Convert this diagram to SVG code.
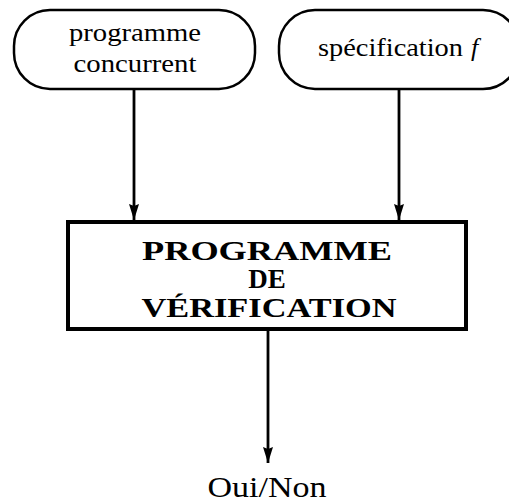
<svg xmlns="http://www.w3.org/2000/svg" width="509" height="504" viewBox="0 0 509 504">
<style>
.t{font-family:"Liberation Serif","Times New Roman",serif;fill:#000}
.s{font-size:26px}
.b{font-size:27px;font-weight:bold}
.shape{fill:none;stroke:#000;stroke-width:2.5}
.box{fill:none;stroke:#000;stroke-width:4}
.ln{stroke:#000;stroke-width:2.8;fill:none}
</style>
<defs>
<marker id="ah" viewBox="0 0 16 12" refX="16" refY="6" markerWidth="16" markerHeight="12" markerUnits="userSpaceOnUse" orient="auto">
<path d="M0,1 L16,6 L0,11 L2,6 Z" fill="#000"/>
</marker>
</defs>
<g id="n1">
<rect class="shape" x="14" y="10" width="241" height="79" rx="36" ry="36"/>
<text class="t s" x="135" y="41" text-anchor="middle" textLength="132" lengthAdjust="spacingAndGlyphs">programme</text>
<text class="t s" x="135" y="72" text-anchor="middle" textLength="123" lengthAdjust="spacingAndGlyphs">concurrent</text>
</g>
<g id="n2">
<rect class="shape" x="279" y="10" width="240" height="79" rx="36" ry="36"/>
<text class="t s" x="318" y="56" textLength="145" lengthAdjust="spacingAndGlyphs">spécification</text>
<text class="t s" x="471" y="56" font-style="italic">f</text>
</g>
<g id="n3">
<rect class="box" x="68" y="222" width="398" height="107"/>
<text class="t b" x="267" y="260" text-anchor="middle" textLength="250" lengthAdjust="spacingAndGlyphs">PROGRAMME</text>
<text class="t b" x="267" y="288" text-anchor="middle">DE</text>
<text class="t b" x="269" y="317" text-anchor="middle" textLength="255" lengthAdjust="spacingAndGlyphs">VÉRIFICATION</text>
</g>
<g id="n4">
<text class="t" font-size="30" x="267" y="497" text-anchor="middle" textLength="119" lengthAdjust="spacingAndGlyphs">Oui/Non</text>
</g>
<g id="edges">
<line class="ln" x1="134" y1="89" x2="134" y2="220" marker-end="url(#ah)"/>
<line class="ln" x1="399" y1="89" x2="399" y2="220" marker-end="url(#ah)"/>
<line class="ln" x1="268" y1="331" x2="268" y2="463" marker-end="url(#ah)"/>
</g>
</svg>
